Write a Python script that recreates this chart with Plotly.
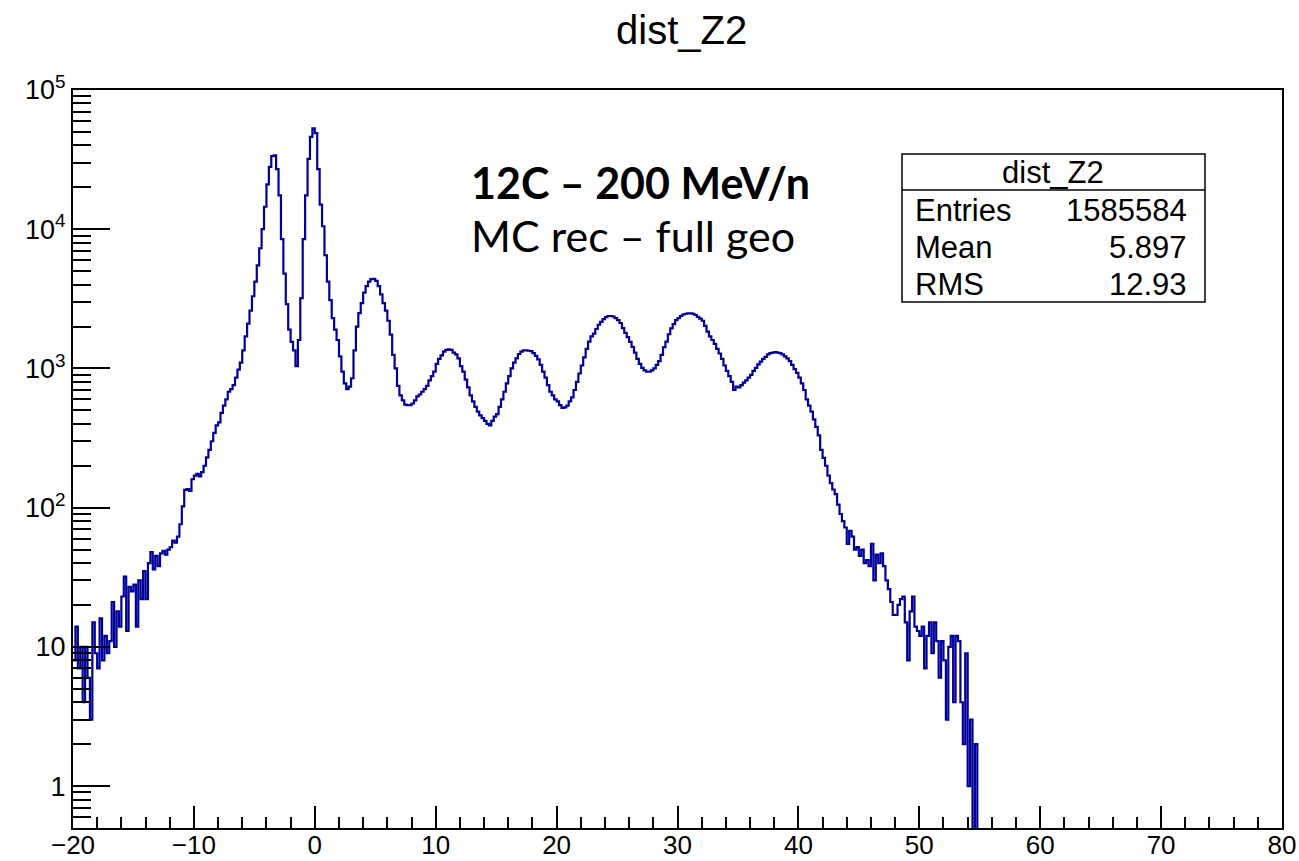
import numpy as np
import plotly.graph_objects as go

# Histogram binning: 500 bins over [-20, 80] -> width 0.2
BIN_LO = -20.0
BIN_W = 0.2

# Counts per bin, 5 bins per unit of dist_Z2, from -20 to 55
counts = [
    8, 14, 7, 10, 4,                  # -20 .. -19
    10, 6, 3, 15, 9,                  # -19 .. -18
    7, 16, 8, 12, 9,                  # -18 .. -17
    11, 21, 10, 18, 14,               # -17 .. -16
    23, 32, 13, 27, 25,               # -16 .. -15
    28, 14, 30, 22, 35,               # -15 .. -14
    22, 40, 48, 36, 45,               # -14 .. -13
    38, 47, 49, 46, 50,               # -13 .. -12
    52, 58, 56, 62, 76,               # -12 .. -11
    102, 134, 136, 132, 160,          # -11 .. -10
    170, 175, 168, 180, 200,          # -10 .. -9
    230, 260, 300, 345, 390,          # -9 .. -8
    410, 480, 540, 600, 680,          # -8 .. -7
    710, 760, 860, 980, 1100,         # -7 .. -6
    1350, 1700, 2100, 2600, 3300,     # -6 .. -5
    4200, 5500, 7300, 10000, 14500,   # -5 .. -4
    21000, 28000, 33500, 34000, 27000,  # -4 .. -3
    17500, 8500, 4800, 2900, 1900,    # -3 .. -2
    1550, 1350, 1040, 1600, 3200,     # -2 .. -1
    8500, 17500, 32000, 46000, 53000,  # -1 .. 0
    49000, 27000, 15000, 10500, 6500,  # 0 .. 1
    4200, 3100, 2300, 1900, 1600,     # 1 .. 2
    1220, 950, 780, 710, 740,         # 2 .. 3
    850, 1350, 2000, 2500, 2950,      # 3 .. 4
    3500, 3900, 4200, 4380, 4400,     # 4 .. 5
    4250, 3900, 3400, 2950, 2600,     # 5 .. 6
    2200, 1750, 1250, 1000, 750,      # 6 .. 7
    640, 590, 550, 545, 545,          # 7 .. 8
    560, 590, 630, 650, 680,          # 8 .. 9
    710, 750, 820, 880, 950,          # 9 .. 10
    1080, 1170, 1240, 1320, 1360,     # 10 .. 11
    1370, 1360, 1300, 1260, 1180,     # 11 .. 12
    1040, 950, 830, 730, 640,         # 12 .. 13
    580, 530, 490, 460, 440,          # 13 .. 14
    420, 400, 390, 420, 450,          # 14 .. 15
    470, 530, 600, 680, 780,          # 15 .. 16
    880, 1000, 1100, 1180, 1270,      # 16 .. 17
    1320, 1350, 1350, 1340, 1330,     # 17 .. 18
    1290, 1230, 1160, 1060, 950,      # 18 .. 19
    860, 760, 680, 640, 600,          # 19 .. 20
    580, 545, 520, 525, 540,          # 20 .. 21
    580, 620, 700, 800, 920,          # 21 .. 22
    1050, 1200, 1380, 1560, 1700,     # 22 .. 23
    1780, 1920, 2060, 2160, 2260,     # 23 .. 24
    2340, 2380, 2380, 2360, 2300,     # 24 .. 25
    2220, 2120, 1950, 1800, 1680,     # 25 .. 26
    1550, 1430, 1300, 1170, 1080,     # 26 .. 27
    1010, 970, 950, 950, 970,         # 27 .. 28
    1000, 1060, 1130, 1250, 1420,     # 28 .. 29
    1560, 1760, 1940, 2080, 2220,     # 29 .. 30
    2300, 2380, 2440, 2470, 2490,     # 30 .. 31
    2490, 2470, 2420, 2350, 2280,     # 31 .. 32
    2200, 2020, 1840, 1700, 1600,     # 32 .. 33
    1500, 1380, 1280, 1170, 1050,     # 33 .. 34
    960, 880, 800, 700, 740,          # 34 .. 35
    730, 760, 790, 820, 860,          # 35 .. 36
    900, 960, 1010, 1070, 1120,       # 36 .. 37
    1170, 1210, 1260, 1290, 1300,     # 37 .. 38
    1310, 1300, 1290, 1260, 1220,     # 38 .. 39
    1180, 1130, 1060, 990, 930,       # 39 .. 40
    860, 780, 700, 600, 540,          # 40 .. 41
    490, 430, 380, 330, 260,          # 41 .. 42
    228, 200, 170, 150, 135,          # 42 .. 43
    125, 105, 90, 80, 72,             # 43 .. 44
    55, 68, 62, 50, 52,               # 44 .. 45
    45, 50, 40, 42, 38,               # 45 .. 46
    55, 30, 46, 40, 47,               # 46 .. 47
    38, 30, 26, 21, 17,               # 47 .. 48
    17, 20, 22, 23, 15,               # 48 .. 49
    8, 18, 23, 14, 13,                # 49 .. 50
    12, 14, 7, 12, 15,                # 50 .. 51
    9, 15, 11, 6, 11,                 # 51 .. 52
    8, 3, 10, 12, 4,                  # 52 .. 53
    12, 11, 4, 2, 9,                  # 53 .. 54
    1, 3, 0, 2, 0,                    # 54 .. 55
]

# Statistics box contents
stats_title = "dist_Z2"
stats_labels = ["Entries", "Mean", "RMS"]
stats_values = ["1585584", "5.897", "12.93"]

# Axis settings
x_range = [-20, 80]
y_min, y_max = 0.5, 1e5
decades = [1, 10, 100, 1000, 10000, 100000]
decade_text = ["1", "10", "10<sup>2</sup>", "10<sup>3</sup>", "10<sup>4</sup>", "10<sup>5</sup>"]

# Step outline: left edges + closing right edge; empty bins drop below the frame
n = len(counts)
edges = BIN_LO + BIN_W * np.arange(n + 1)
yvals = np.array(counts + [counts[-1]], dtype=float)
yvals[yvals <= 0] = 0.01

LINE_COLOR = "#000099"
FONT = "Liberation Sans, Arial, Helvetica, sans-serif"
TEXT_FONT = "Lato, Open Sans, sans-serif"

fig = go.Figure()
fig.add_trace(go.Scatter(
    x=edges, y=yvals, mode="lines", line_shape="hv",
    line=dict(color=LINE_COLOR, width=2.2), hoverinfo="skip", showlegend=False,
))
# invisible trace on the overlay axis that carries the long decade ticks
fig.add_trace(go.Scatter(x=[None], y=[None], yaxis="y2", showlegend=False))

# minor tick positions on the log axis: 2..9 within each decade
minor_vals = [0.6, 0.7, 0.8, 0.9]
for d in decades[:-1]:
    minor_vals += [k * d for k in range(1, 10)]
minor_vals.append(1e5)
minor_text = [decade_text[decades.index(v)] if v in decades else "" for v in minor_vals]

L, R, T, B = 73, 1282, 90, 828
W, H = 1299, 861


def px(xp):
    return (xp - L) / (R - L)


def py(yp):
    return (B - yp) / (B - T)


fig.update_layout(
    width=W, height=H,
    margin=dict(l=L, r=W - R, t=T, b=H - B, autoexpand=False),
    paper_bgcolor="white", plot_bgcolor="white",
    font=dict(family=FONT, color="black"),
    xaxis=dict(
        range=x_range, tick0=-20, dtick=10, ticks="inside", ticklen=22, tickwidth=1.5,
        tickcolor="black", showline=True, linecolor="black", linewidth=2, mirror=True,
        showgrid=False, zeroline=False, tickfont=dict(size=26, family=FONT),
        automargin=False, ticklabelstandoff=-7,
        minor=dict(dtick=2, ticks="inside", ticklen=11, tickwidth=1.5, tickcolor="black"),
    ),
    yaxis=dict(
        type="log", range=[np.log10(y_min), np.log10(y_max)],
        tickmode="array", tickvals=minor_vals, ticktext=minor_text,
        ticks="inside", ticklen=18, tickwidth=1.5, tickcolor="black",
        showline=True, linecolor="black", linewidth=2, mirror=True, automargin=False,
        showgrid=False, zeroline=False, tickfont=dict(size=27, family=FONT),
    ),
    yaxis2=dict(
        type="log", range=[np.log10(y_min), np.log10(y_max)], overlaying="y", side="left",
        tickmode="array", tickvals=decades, ticks="inside", ticklen=37, tickwidth=1.5,
        tickcolor="black", showticklabels=False, showline=False, showgrid=False,
        zeroline=False, automargin=False,
    ),
)

annotations = [
    dict(text="dist_Z2", x=px(681), y=py(30), xref="paper", yref="paper",
         showarrow=False, font=dict(size=40, family=FONT), xanchor="center", yanchor="middle"),
    dict(text="<b>12C – 200 MeV/n</b>", x=px(469), y=py(183), xref="paper", yref="paper",
         showarrow=False, font=dict(size=43, family=TEXT_FONT),
         xanchor="left", yanchor="middle"),
    dict(text="MC rec – full geo", x=px(469), y=py(236), xref="paper", yref="paper",
         showarrow=False, font=dict(size=43, family=TEXT_FONT),
         xanchor="left", yanchor="middle"),
    dict(text=stats_title, x=px(1053), y=py(172), xref="paper", yref="paper",
         showarrow=False, font=dict(size=31, family=FONT), xanchor="center", yanchor="middle"),
]
row_y = [210, 247, 284]
for lab, val, yy in zip(stats_labels, stats_values, row_y):
    annotations.append(dict(text=lab, x=px(913), y=py(yy), xref="paper", yref="paper",
                            showarrow=False, font=dict(size=31, family=FONT),
                            xanchor="left", yanchor="middle"))
    annotations.append(dict(text=val, x=px(1189), y=py(yy), xref="paper", yref="paper",
                            showarrow=False, font=dict(size=31, family=FONT),
                            xanchor="right", yanchor="middle"))
fig.update_layout(annotations=annotations)

fig.update_layout(shapes=[
    dict(type="rect", xref="paper", yref="paper", x0=px(902), x1=px(1205),
         y0=py(302), y1=py(154), line=dict(color="black", width=1.5), fillcolor="white",
         layer="above"),
    dict(type="line", xref="paper", yref="paper", x0=px(902), x1=px(1205),
         y0=py(190), y1=py(190), line=dict(color="black", width=1.5)),
])

fig.write_html("out.html")
